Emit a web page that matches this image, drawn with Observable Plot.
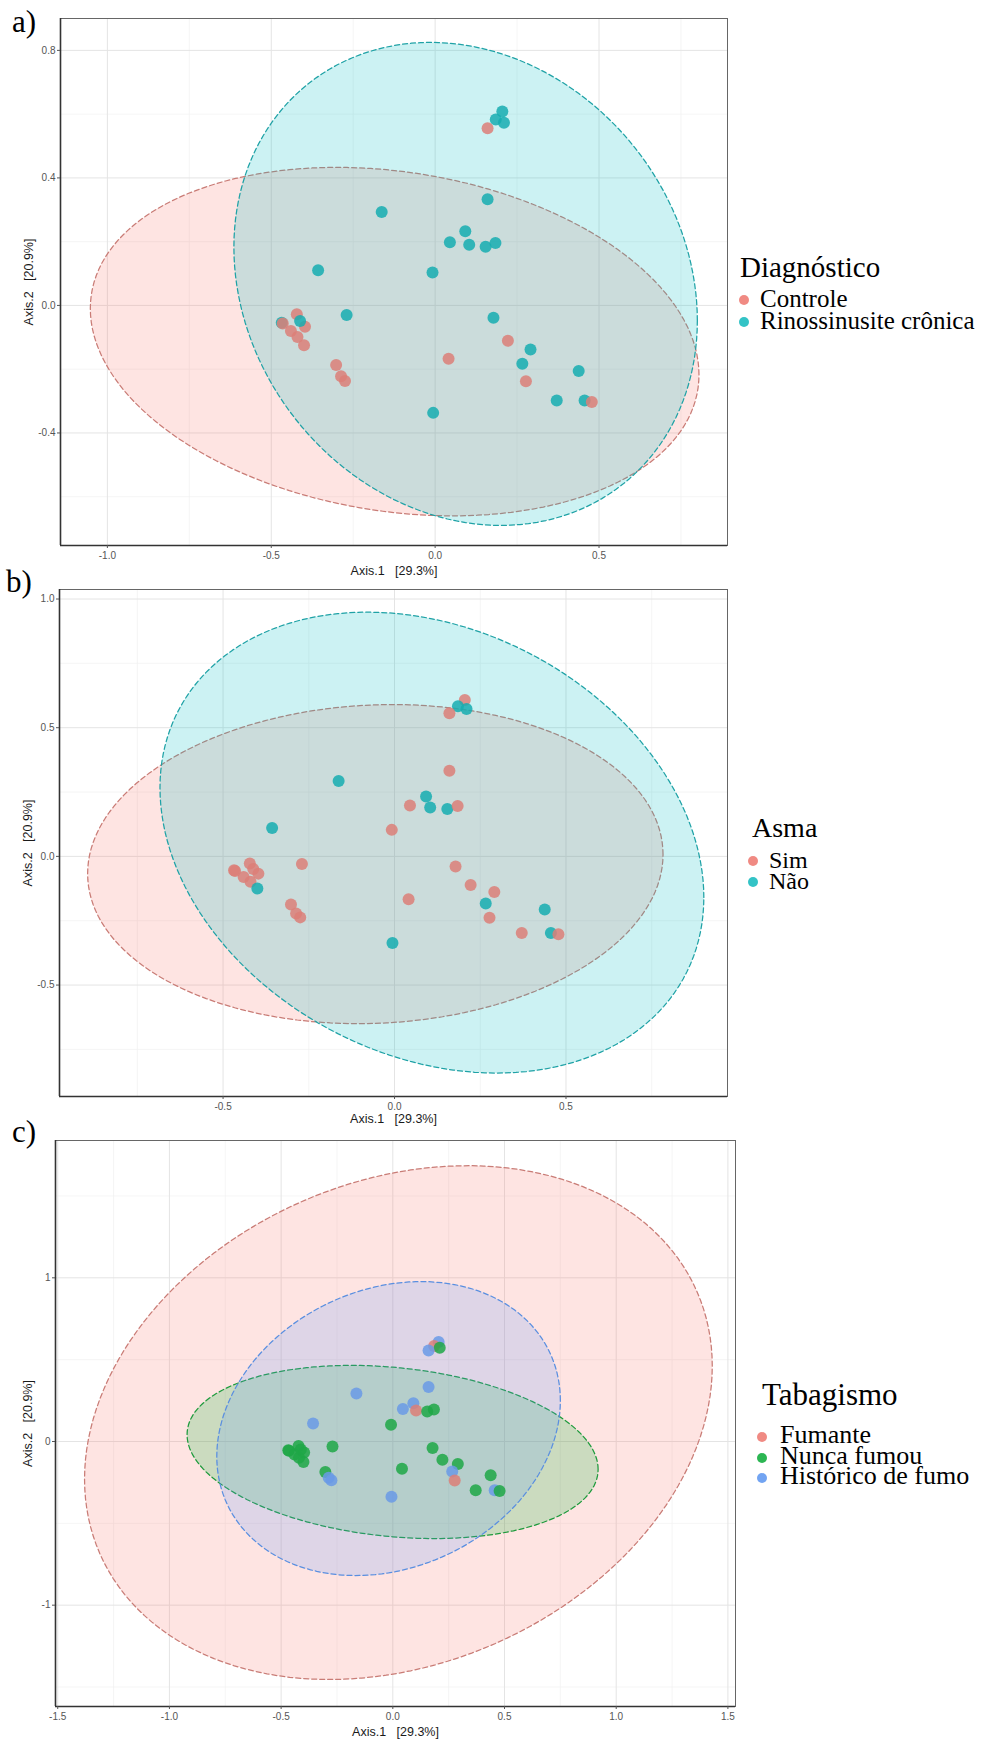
<!DOCTYPE html>
<html>
<head>
<meta charset="utf-8">
<script src="https://cdn.jsdelivr.net/npm/d3@7"></script>
<script src="https://cdn.jsdelivr.net/npm/@observablehq/plot@0.6"></script>
<style>
  body { margin: 0; background: #fff; }
  #root { position: relative; width: 983px; height: 1742px; overflow: hidden; background: #fff; }
  .abs { position: absolute; }
  .lbl { font-family: "Liberation Serif", "Times New Roman", "DejaVu Serif", serif; color: #000; line-height: 0.7; white-space: nowrap; }
  .dot { position: absolute; border-radius: 50%; }
</style>
</head>
<body>
<div id="root"></div>
<script>
// ---------------- DATA ----------------
// PCoA coordinates of the samples (same samples in the three panels)
const axis1 = [0.205, 0.185, 0.210, 0.160, 0.160, -0.163, 0.092, 0.045, 0.104, 0.154, 0.184, -0.357,
  -0.008, -0.270, -0.468, -0.465, -0.422, -0.440, -0.397, -0.420, -0.400, -0.412, -0.302, -0.287,
  -0.275, 0.178, 0.222, 0.291, 0.041, 0.266, 0.277, 0.438, 0.371, 0.456, 0.478, -0.006];
const axis2 = [0.608, 0.583, 0.573, 0.556, 0.333, 0.293, 0.233, 0.198, 0.190, 0.184, 0.196, 0.110,
  0.103, -0.030, -0.054, -0.057, -0.028, -0.080, -0.067, -0.099, -0.125, -0.049, -0.187, -0.222,
  -0.237, -0.039, -0.111, -0.138, -0.167, -0.183, -0.238, -0.206, -0.298, -0.298, -0.303, -0.337];

const C = "Controle", R = "Rinossinusite crônica";
const diagnostico = [R, R, R, C, R, R, R, R, R, R, R, R, R, R, R, C, C, C, C, C, C, R, C, C, C, R, C, R, C, R, C, R, R, R, C, R];
const S = "Sim", N = "Não";
const asma = [S, N, N, S, S, N, N, S, N, N, S, N, S, S, S, S, S, S, S, S, N, S, S, S, S, S, S, S, S, N, S, N, S, N, S, N];
const F = "Fumante", NU = "Nunca fumou", H = "Histórico de fumo";
const tabagismo = [H, F, NU, H, H, H, H, H, F, NU, NU, H, NU, NU, NU, NU, NU, NU, NU, NU, NU, NU, NU, H, H, NU, NU, NU, NU, H, F, NU, NU, H, NU, H];

// group levels
const levelsA = ["Controle", "Rinossinusite crônica"];
const levelsB = ["Sim", "Não"];
const levelsC = ["Fumante", "Nunca fumou", "Histórico de fumo"];

// ellipse parameters (center, half-extent in x and y, correlation)
const ellA_cx = [-0.1235, 0.093], ellA_cy = [-0.1135, 0.0675], ellA_hx = [0.9285, 0.707], ellA_hy = [0.5465, 0.7575], ellA_rho = [-0.19, -0.152];
const ellB_cx = [-0.056, 0.109], ellB_cy = [-0.030, 0.0535], ellB_hx = [0.839, 0.793], ellB_hy = [0.620, 0.8955], ellB_rho = [0.06, -0.238];
const ellC_cx = [0.025, -0.001, -0.019], ellC_cy = [0.1155, -0.064, 0.079], ellC_hx = [1.405, 0.92, 0.769], ellC_hy = [1.5695, 0.529, 0.898], ellC_rho = [0.22, -0.20, 0.19];

// ticks
const ticksAx = [-1.0, -0.5, 0.0, 0.5], minorAx = [-0.75, -0.25, 0.25, 0.75];
const ticksAy = [-0.4, 0.0, 0.4, 0.8], minorAy = [-0.6, -0.2, 0.2, 0.6];
const ticksBx = [-0.5, 0.0, 0.5], minorBx = [-0.75, -0.25, 0.25, 0.75];
const ticksBy = [-0.5, 0.0, 0.5, 1.0], minorBy = [-0.75, -0.25, 0.25, 0.75];
const ticksCx = [-1.5, -1.0, -0.5, 0.0, 0.5, 1.0, 1.5], minorCx = [-1.25, -0.75, -0.25, 0.25, 0.75, 1.25];
const ticksCy = [-1, 0, 1], minorCy = [-1.5, -0.5, 0.5, 1.5];

const xTitle = "Axis.1\u00a0\u00a0\u00a0[29.3%]";
const yTitle = "Axis.2\u00a0\u00a0\u00a0[20.9%]";

// colours
const RED = {pt: "#dc7f78", fill: "#F8766D", stroke: "#c97c76", key: "#f08a83"};
const TEAL = {pt: "#16adb0", fill: "#00BFC4", stroke: "#1fa2a6", key: "#33c3c6"};
const GREEN = {pt: "#1fa746", fill: "#00BA38", stroke: "#1d9a3c", key: "#2cb653"};
const BLUE = {pt: "#6a9ae6", fill: "#619CFF", stroke: "#5a8fe0", key: "#72a4f2"};

// ---------------- DRAWING ----------------
const root = document.getElementById("root");

function ellipsePts(cx, cy, hx, hy, rho) {
  const pts = [], n = 160, s = Math.sqrt(1 - rho * rho);
  for (let i = 0; i <= n; i++) {
    const t = 2 * Math.PI * i / n;
    pts.push({x: cx + hx * Math.cos(t), y: cy + hy * (rho * Math.cos(t) + s * Math.sin(t))});
  }
  return pts;
}

function panel(p) {
  const pts = axis1.map((x, i) => ({x, y: axis2[i], g: p.groups[i]}));
  const gridMinor = {stroke: "#f1f1f1", strokeOpacity: 1, strokeWidth: 0.7};
  const gridMajor = {stroke: "#e4e4e4", strokeOpacity: 1, strokeWidth: 1};
  const marks = [
    Plot.gridX(p.xMinor, gridMinor),
    Plot.gridY(p.yMinor, gridMinor),
    Plot.gridX(p.xTicks, gridMajor),
    Plot.gridY(p.yTicks, gridMajor)
  ];
  p.ell.cx.forEach((cx, k) => {
    marks.push(Plot.line(ellipsePts(cx, p.ell.cy[k], p.ell.hx[k], p.ell.hy[k], p.ell.rho[k]), {
      x: "x", y: "y", fill: p.cols[k].fill, fillOpacity: 0.2,
      stroke: p.cols[k].stroke, strokeWidth: 1.25, strokeDasharray: "5,3"
    }));
  });
  marks.push(Plot.dot(pts, {x: "x", y: "y", fill: "g", r: 6, fillOpacity: 0.85}));
  marks.push(Plot.frame({stroke: "#666", strokeWidth: 1}));
  marks.push(Plot.ruleX([p.xDomain[0]], {stroke: "#333", strokeWidth: 1.6}));
  marks.push(Plot.ruleY([p.yDomain[0]], {stroke: "#333", strokeWidth: 1.6}));
  marks.push(Plot.axisX(p.xTicks, {tickFormat: p.xFmt, tickSize: 3, tickPadding: 3, fontSize: 10, fill: "#555", stroke: "#555", label: null}));
  marks.push(Plot.axisY(p.yTicks, {tickFormat: p.yFmt, tickSize: 3, tickPadding: 2, fontSize: 10, fill: "#555", stroke: "#555", label: null}));
  marks.push(Plot.text([xTitle], {text: d => d, frameAnchor: "bottom", dy: p.xTitleDy, fontSize: 12.5, fill: "#1a1a1a", textAnchor: "middle", lineAnchor: "middle"}));
  marks.push(Plot.text([yTitle], {text: d => d, frameAnchor: "left", dx: p.yTitleDx, rotate: -90, fontSize: 12.5, fill: "#1a1a1a", textAnchor: "middle", lineAnchor: "middle"}));

  const svg = Plot.plot({
    width: p.width, height: p.height,
    marginLeft: p.ml, marginRight: p.mr, marginTop: 4, marginBottom: p.mb,
    x: {domain: p.xDomain},
    y: {domain: p.yDomain},
    color: {domain: p.levels, range: p.cols.map(c => c.pt)},
    style: {background: "transparent", fontFamily: "'Liberation Sans', Arial, sans-serif", overflow: "visible"},
    marks
  });
  const wrap = document.createElement("div");
  wrap.className = "abs";
  wrap.style.left = "0px";
  wrap.style.top = p.top + "px";
  wrap.appendChild(svg);
  root.appendChild(wrap);
}

// line-height 0.7 -> baseline sits 0.6875 em below the top of the box
function text(txt, left, baseline, size) {
  const d = document.createElement("div");
  d.className = "abs lbl";
  d.textContent = txt;
  d.style.left = left + "px";
  d.style.top = (baseline - 0.6875 * size) + "px";
  d.style.fontSize = size + "px";
  root.appendChild(d);
}
function keyDot(cx, cy, r, color) {
  const d = document.createElement("div");
  d.className = "dot";
  d.style.left = (cx - r) + "px";
  d.style.top = (cy - r) + "px";
  d.style.width = (2 * r) + "px";
  d.style.height = (2 * r) + "px";
  d.style.background = color;
  root.appendChild(d);
}
function legend(title, titleLeft, titleBase, titleSize, labels, cols, dotX, textX, firstBase, step, size) {
  text(title, titleLeft, titleBase, titleSize);
  labels.forEach((l, i) => {
    keyDot(dotX, firstBase + i * step - 7, 5, cols[i].key);
    text(l, textX, firstBase + i * step, size);
  });
}

const f1 = d => d.toFixed(1);
const f0 = d => String(d);

// Panel a
panel({
  top: 14, width: 740, height: 571, ml: 60, mr: 13, mb: 40,
  xDomain: [-1.143, 0.892], yDomain: [-0.753, 0.900],
  xTicks: ticksAx, xMinor: minorAx, yTicks: ticksAy, yMinor: minorAy, xFmt: f1, yFmt: f1,
  groups: diagnostico, levels: levelsA, cols: [RED, TEAL],
  ell: {cx: ellA_cx, cy: ellA_cy, hx: ellA_hx, hy: ellA_hy, rho: ellA_rho},
  xTitleDy: 25, yTitleDx: -32
});
// Panel b
panel({
  top: 585, width: 740, height: 547, ml: 59, mr: 13, mb: 36,
  xDomain: [-0.977, 0.971], yDomain: [-0.933, 1.037],
  xTicks: ticksBx, xMinor: minorBx, yTicks: ticksBy, yMinor: minorBy, xFmt: f1, yFmt: f1,
  groups: asma, levels: levelsB, cols: [RED, TEAL],
  ell: {cx: ellB_cx, cy: ellB_cy, hx: ellB_hx, hy: ellB_hy, rho: ellB_rho},
  xTitleDy: 22, yTitleDx: -32
});
// Panel c
panel({
  top: 1136, width: 745, height: 606, ml: 55, mr: 10, mb: 36,
  xDomain: [-1.510, 1.534], yDomain: [-1.619, 1.839],
  xTicks: ticksCx, xMinor: minorCx, yTicks: ticksCy, yMinor: minorCy, xFmt: f1, yFmt: f0,
  groups: tabagismo, levels: levelsC, cols: [RED, GREEN, BLUE],
  ell: {cx: ellC_cx, cy: ellC_cy, hx: ellC_hx, hy: ellC_hy, rho: ellC_rho},
  xTitleDy: 25, yTitleDx: -28
});

// panel letters
text("a)", 12, 32, 31);
text("b)", 6, 592, 31);
text("c)", 12, 1142, 31);

// legends
legend("Diagnóstico", 740, 277, 29, levelsA, [RED, TEAL], 744, 760, 307, 22, 25);
legend("Asma", 752, 837, 28, levelsB, [RED, TEAL], 753, 769, 868, 21, 24);
legend("Tabagismo", 762, 1405, 31, levelsC, [RED, GREEN, BLUE], 762, 780, 1444, 20.5, 26);
</script>
</body>
</html>
